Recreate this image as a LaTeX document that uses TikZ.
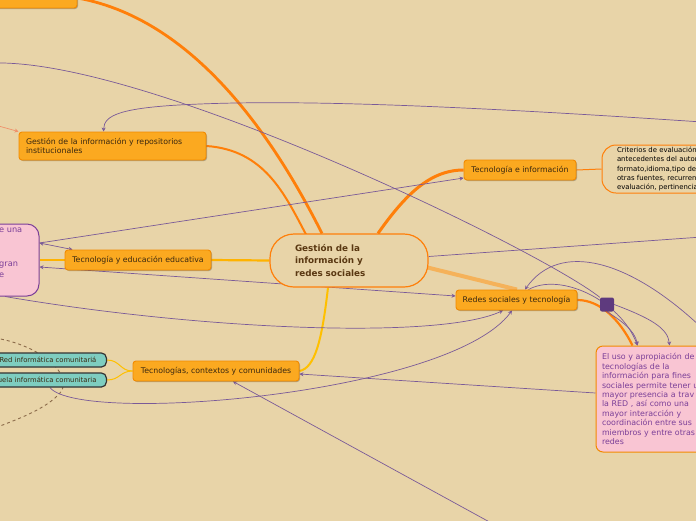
\documentclass[tikz,border=0pt]{standalone}
\usepackage{fontspec}
\setmainfont{DejaVu Sans}
\usepackage{xcolor}
\usetikzlibrary{arrows.meta,positioning,calc,shadows,backgrounds}
\definecolor{paper}{HTML}{E8D4A8}
\definecolor{topicfill}{HTML}{FBA920}
\definecolor{topicline}{HTML}{F28A00}
\definecolor{branchor}{HTML}{FF7F0A}
\definecolor{branchyel}{HTML}{FFC000}
\definecolor{lightor}{HTML}{F5B25A}
\definecolor{salmon}{HTML}{F0906A}
\definecolor{relpurple}{HTML}{7A5A98}
\definecolor{pinkfill}{HTML}{F9C5D3}
\definecolor{pinktext}{HTML}{7B3F98}
\definecolor{tealfill}{HTML}{7ECDC0}
\definecolor{inktext}{HTML}{3A2810}
\definecolor{hubtext}{HTML}{5A3812}
\definecolor{sqpurple}{HTML}{5E3A7E}
\definecolor{dashbrown}{HTML}{8B6B4A}

\begin{document}
\begin{tikzpicture}[
    x=1pt, y=-1pt,
    >={Stealth[length=4pt,width=4pt]},
    topic/.style={draw=topicline, fill=topicfill, line width=0.9pt, rounded corners=3pt, text=inktext, font=\fontsize{7.8}{9}\selectfont, inner sep=0pt, minimum height=20pt, align=center, drop shadow={shadow xshift=1pt, shadow yshift=-1pt, opacity=0.25, fill=black}},
    hub/.style={draw=branchor, fill=paper, line width=1.2pt, rounded corners=24pt, minimum width=158pt, minimum height=53pt, text width=108pt, align=left, inner sep=0pt, text=hubtext, font=\fontsize{8.8}{12.5}\selectfont\bfseries},
    note/.style={draw=branchor, fill=paper, line width=1pt, rounded corners=14pt, inner sep=0pt, align=left, text=black, font=\fontsize{6.9}{9.3}\selectfont},
    pinkbox/.style={fill=pinkfill, line width=1pt, rounded corners=7pt, inner sep=0pt, align=left, text=pinktext},
    tealbox/.style={draw=black!80, fill=tealfill, line width=1.2pt, rounded corners=5pt, minimum height=14pt, inner ysep=0pt, inner xsep=10pt, text width=117pt, align=right, text=inktext, font=\fontsize{6.8}{8}\selectfont},
    rel/.style={draw=relpurple, line width=0.7pt}
]
\useasboundingbox (0,0) rectangle (696,520);

\node[hub] (hub) at (349,260.5) {Gestión de la\\información y\\redes sociales};

\node[topic, minimum width=97pt] (tl) at (28.5,-2) {};
\node[topic, minimum width=187pt, minimum height=28pt, text width=173pt, align=left] (repo) at (112.5,146) {Gestión de la información y repositorios\\institucionales};
\node[topic, minimum width=146pt] (educ) at (138,260) {Tecnología y educación educativa};
\node[topic, minimum width=166pt] (tcc) at (216,371) {Tecnologías, contextos y comunidades};
\node[topic, minimum width=112pt] (tei) at (520,170) {Tecnología e información};
\node[topic, minimum width=121pt] (redes) at (516.5,300) {Redes sociales y tecnología};

\node[note, minimum width=130pt, minimum height=48pt, text width=100pt] (crit) at (667,169) {Criterios de evaluación:\\antecedentes del autor,\\formato,idioma,tipo de\\otras fuentes, recurren\\evaluación, pertinencia};

\node[pinkbox, draw=topicline, minimum width=130pt, minimum height=106pt, text width=118pt, font=\fontsize{7.9}{9.4}\selectfont] (pinkR) at (661,399) {El uso y apropiación de\\tecnologías de la\\información para fines\\sociales permite tener u\\mayor presencia a trav\\la RED , así como una\\mayor interacción y\\coordinación entre sus\\miembros y entre otras\\redes};
\node[pinkbox, draw=pinktext, rounded corners=12pt, minimum width=119pt, minimum height=72pt] (pinkL) at (-20.5,260) {};
\node[anchor=north west, inner sep=0pt, align=left, text=pinktext, font=\fontsize{8.2}{11.3}\selectfont] (pinkLtext) at (-1,228) {e una\\ \\ \\gran\\e};

\node[tealbox, anchor=east] (red) at (107,360) {Red informática comunitariá};
\node[tealbox, anchor=east] (esc) at (107,380) {Escuela informática comunitaria};

\node[fill=sqpurple, rounded corners=2pt, minimum size=14pt, inner sep=0pt] (sq) at (607,304.5) {};

\coordinate (sStart) at (-5,125);
\coordinate (gStart) at (-5,63);
\coordinate (hStart) at (702,122);
\coordinate (iEnd) at (702,237);
\coordinate (jStart) at (702,328);
\coordinate (fStart) at (495,525);

\begin{scope}[on background layer]
\fill[paper] (-10,-15) rectangle (710,530);
\draw[dashbrown, dashed, line width=0.9pt] (-5,338) .. controls (40,345) and (75,375) .. (60,393) .. controls (45,410) and (15,420) .. (-5,428);

\draw[branchor, line width=2.8pt] ($(hub.north)+(-27,0)$) .. controls (280,150) and (200,20) .. (tl.east);
\draw[branchor, line width=2pt] ($(hub.north)+(-43,1)$) .. controls (285,195) and (265,150) .. (repo.east);
\draw[branchyel!80!orange, line width=2.2pt] (hub.west) -- (educ.east);
\draw[branchyel!80!orange, line width=1.4pt] (educ.west) -- (pinkL.east);
\draw[branchyel, line width=2pt] ($(hub.south)+(-21,0)$) .. controls (322,340) and (315,368) .. (tcc.east);
\draw[branchor, line width=3pt] ($(hub.north)+(29,0)$) .. controls (405,195) and (430,170) .. (tei.west);
\draw[lightor, line width=4pt] ($(hub.east)+(-1,7)$) -- ($(redes.north)+(0.5,0)$);
\draw[branchor, line width=1pt] (tei.east) -- (crit.west);
\draw[branchor, line width=2.2pt] (redes.east) .. controls (600,300) and (620,320) .. ($(pinkR.north west)+(37,0)$);
\draw[branchyel, line width=1pt] (tcc.west) .. controls (120,371) and (120,360) .. (red.east);
\draw[branchyel, line width=1pt] (tcc.west) .. controls (120,371) and (120,380) .. (esc.east);
\draw[salmon, line width=0.7pt, ->] (sStart) -- (repo.north west);

\draw[rel, ->] ($(pinkL.east)+(0,-17)$) -- ($(tei.west)+(0,8)$);
\draw[rel, <->] ($(pinkL.east)+(0,-17)$) -- ($(educ.north west)+(8,0)$);
\draw[rel, <->] ($(pinkL.east)+(0,7)$) -- ($(redes.west)+(0,-4)$);
\draw[rel, ->] ($(pinkL.south)+(25.5,0)$) .. controls (200,330) and (440,340) .. ($(redes.south)+(-13.5,0)$);
\draw[rel, ->] ($(esc.south east)+(-57,0)$) .. controls (80,425) and (450,395) .. ($(redes.south)+(-4.5,0)$);
\draw[rel, ->] ($(pinkR.west)+(0,-6)$) -- ($(tcc.east)+(0,3)$);
\draw[rel, ->] (fStart) -- ($(tcc.south)+(17,0)$);
\draw[rel] (gStart) .. controls (150,60) and (540,250) .. (sq.north west);
\draw[rel, ->] (sq.south) .. controls (620,320) and (635,330) .. ($(pinkR.north west)+(42,0)$);
\draw[rel, ->] (sq.east) .. controls (650,318) and (668,328) .. ($(pinkR.north west)+(74,0)$);
\draw[rel, ->] ($(redes.north)+(12,0)$) .. controls (560,272) and (620,300) .. ($(pinkR.north west)+(42,0)$);
\draw[rel, ->] (hStart) .. controls (450,105) and (300,100) .. (200,104) .. controls (120,107) and (104,115) .. ($(repo.north west)+(85,0)$);
\draw[rel] ($(hub.east)+(0,-4)$) -- (iEnd);
\draw[rel, ->] (jStart) .. controls (630,260) and (560,240) .. ($(redes.north)+(8.5,0)$);
\end{scope}
\end{tikzpicture}
\end{document}
